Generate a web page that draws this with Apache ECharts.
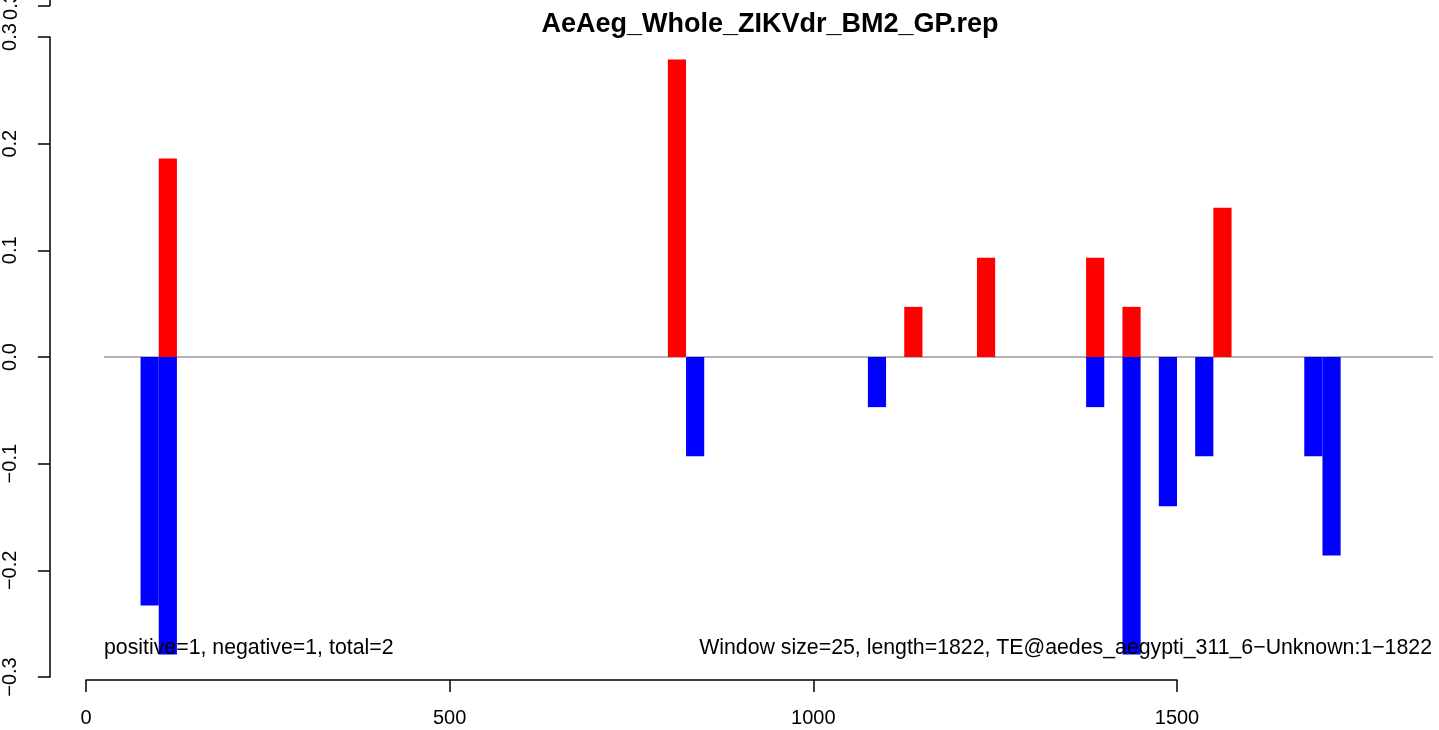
<!DOCTYPE html>
<html><head><meta charset="utf-8">
<script src="https://cdn.jsdelivr.net/npm/echarts@6/dist/echarts.min.js"></script>
<style>html,body{margin:0;padding:0;background:#fff}#c{width:1439px;height:730px}</style>
</head><body><div id="c"></div>
<script>
const chartTitle = 'AeAeg_Whole_ZIKVdr_BM2_GP.rep';
const windowSize = 25;
const posStarts = [100, 800, 1125, 1225, 1375, 1425, 1550];
const posValues = [0.186, 0.279, 0.047, 0.093, 0.093, 0.047, 0.140];
const negStarts = [75, 100, 825, 1075, 1375, 1425, 1475, 1525, 1675, 1700];
const negValues = [-0.233, -0.279, -0.093, -0.047, -0.047, -0.279, -0.140, -0.093, -0.093, -0.186];
const xTickLabels = ['0', '500', '1000', '1500'];
const yTickLabels = ['-0.3', '-0.2', '-0.1', '0.0', '0.1', '0.2', '0.3'];
const zeroLineRange = [25, 1852];
const leftNote = 'positive=1, negative=1, total=2';
const rightNote = 'Window size=25, length=1822, TE@aedes_aegypti_311_6\u2212Unknown:1\u22121822';

const FONT = "'Liberation Sans', Arial, Helvetica, sans-serif";
const pxPerUnit = 1091 / 1500;

function renderBar(params, api) {
  const s = api.value(0), v = api.value(1);
  const p0 = api.coord([s, 0]);
  const p1 = api.coord([s + windowSize, v]);
  return {
    type: 'rect',
    shape: { x: p0[0], y: Math.min(p0[1], p1[1]), width: p1[0] - p0[0], height: Math.abs(p1[1] - p0[1]) },
    style: { fill: api.visual('color') }
  };
}
const minus = s => String(s).replace('-', '\u2212');

const chart = echarts.init(document.getElementById('c'), null, { renderer: 'canvas' });
chart.setOption({
  backgroundColor: '#ffffff',
  animation: false,
  title: {
    text: chartTitle, left: 765, top: 6, textAlign: 'center',
    textStyle: { fontFamily: FONT, fontWeight: 'bold', fontSize: 27, color: '#000' }
  },
  grid: [
    { left: 86, top: 37, width: 1860 * pxPerUnit, height: 640 },
    { left: 86, top: 37, width: 1500 * pxPerUnit, height: 640 }
  ],
  xAxis: [
    { type: 'value', gridIndex: 0, min: 0, max: 1860, show: false },
    {
      type: 'value', gridIndex: 1, min: 0, max: 1500, interval: 500, offset: 3,
      axisLine: { show: true, onZero: false, lineStyle: { color: '#000', width: 1.5 } },
      axisTick: { show: true, length: 12, lineStyle: { color: '#000', width: 1.5 } },
      splitLine: { show: false },
      axisLabel: {
        margin: 28, color: '#000', fontFamily: FONT, fontSize: 20,
        formatter: v => xTickLabels[Math.round(v / 500)]
      }
    }
  ],
  yAxis: [
    {
      type: 'value', gridIndex: 0, min: -0.3, max: 0.3, interval: 0.1, offset: 36,
      axisLine: { show: true, onZero: false, lineStyle: { color: '#000', width: 1.5 } },
      axisTick: { show: true, length: 12, lineStyle: { color: '#000', width: 1.5 } },
      splitLine: { show: false },
      axisLabel: {
        rotate: 90, margin: 30, color: '#000', fontFamily: FONT, fontSize: 20,
        formatter: v => minus(yTickLabels[Math.round((v + 0.3) * 10)])
      }
    },
    { type: 'value', gridIndex: 1, min: -0.3, max: 0.3, show: false }
  ],
  series: [
    {
      type: 'line', xAxisIndex: 0, yAxisIndex: 0, z: 1, silent: true, symbol: 'none',
      lineStyle: { color: '#9a9a9a', width: 1.6 },
      data: zeroLineRange.map(x => [x, 0])
    },
    {
      type: 'custom', xAxisIndex: 0, yAxisIndex: 0, z: 2, renderItem: renderBar,
      itemStyle: { color: '#0000ff' },
      data: negStarts.map((s, i) => [s, negValues[i]])
    },
    {
      type: 'custom', xAxisIndex: 0, yAxisIndex: 0, z: 3, renderItem: renderBar,
      itemStyle: { color: '#ff0000' },
      data: posStarts.map((s, i) => [s, posValues[i]])
    }
  ],
  graphic: [
    { type: 'line', z: 100, shape: { x1: 50, y1: 0, x2: 50, y2: 6 }, style: { stroke: '#000', lineWidth: 1.5 } },
    { type: 'line', z: 100, shape: { x1: 38, y1: 6, x2: 50, y2: 6 }, style: { stroke: '#000', lineWidth: 1.5 } },
    { type: 'text', z: 100, x: 11, y: 6, rotation: Math.PI / 2,
      style: { text: '0.3', fontFamily: FONT, fontSize: 20, fill: '#000', align: 'center', verticalAlign: 'middle' } },
    { type: 'text', z: 100, x: 104, y: 648,
      style: { text: leftNote, fontFamily: FONT, fontSize: 21.3, fill: '#000', align: 'left', verticalAlign: 'middle' } },
    { type: 'text', z: 100, x: 1432, y: 648,
      style: { text: rightNote, fontFamily: FONT, fontSize: 21.3, fill: '#000', align: 'right', verticalAlign: 'middle' } }
  ]
});
</script>
</body></html>
